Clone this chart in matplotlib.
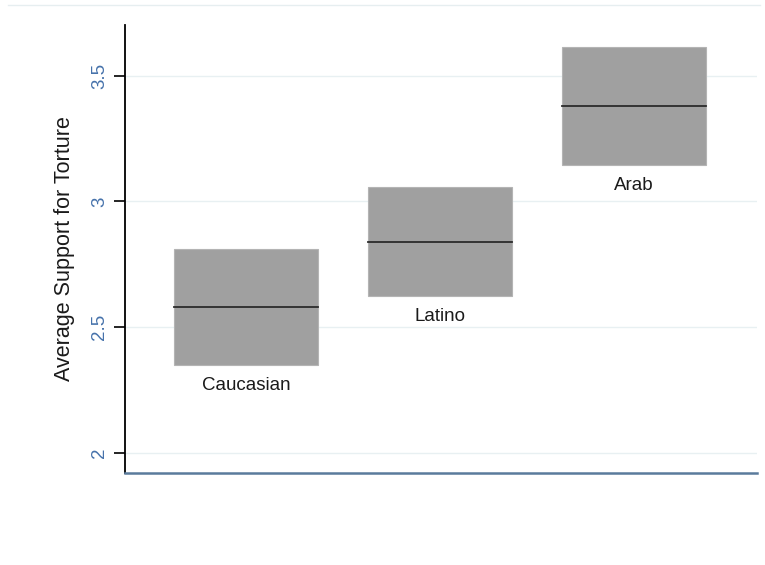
import matplotlib.pyplot as plt
from matplotlib.lines import Line2D

# mean support and 95% CI per ethnic group
groups = ['Caucasian', 'Latino', 'Arab']
means = [2.580, 2.840, 3.378]
lower = [2.350, 2.624, 3.144]
upper = [2.810, 3.057, 3.613]
yticks = [2, 2.5, 3, 3.5]
ytick_labels = ['2', '2.5', '3', '3.5']

plt.rcParams['font.family'] = ['Liberation Sans', 'DejaVu Sans']

fig = plt.figure(figsize=(7.65, 5.65), dpi=100)
fig.patch.set_facecolor('white')
ax = fig.add_axes([125 / 765, 92 / 565, 632 / 765, 448 / 565])

# faint graph-region line at the very top
fig.add_artist(Line2D([8 / 765, 760 / 765], [1 - 5 / 565, 1 - 5 / 565],
                      color='#e6eef0', lw=1.0, transform=fig.transFigure))

width = 0.742
for i, (g, m, lo, hi) in enumerate(zip(groups, means, lower, upper)):
    x = i + 1
    ax.bar(x, hi - lo, bottom=lo, width=width, color='#a0a0a0',
           edgecolor='#b4b4b4', linewidth=0.8, zorder=2)
    ax.plot([x - width / 2, x + width / 2], [m, m], color='#2b2b2b',
            lw=1.3, zorder=3)
    ax.annotate(g, (x, lo), xytext=(0, -8.5), textcoords='offset points',
                ha='center', va='top', fontsize=13.5, color='#1a1a1a')

ax.set_xlim(0.376, 3.634)
ax.set_ylim(1.9205, 3.7007)
ax.set_xticks([])
ax.set_yticks(yticks)
ax.set_yticklabels(ytick_labels, rotation=90, va='center',
                   color='#4672ab', fontsize=13.5)
ax.tick_params(axis='y', direction='out', length=8, width=1.2,
               color='black', pad=4)

ax.yaxis.grid(True, color='#e8f0f2', lw=1.0, zorder=0)
ax.set_axisbelow(True)

for side in ['top', 'right']:
    ax.spines[side].set_visible(False)
ax.spines['left'].set_color('black')
ax.spines['left'].set_linewidth(1.3)
ax.spines['bottom'].set_color('#5a7b9c')
ax.spines['bottom'].set_linewidth(1.8)

ax.set_ylabel('Average Support for Torture', fontsize=15.5, color='#1a1a1a',
              labelpad=12)

fig.savefig('out.png', dpi=100, facecolor='white')
